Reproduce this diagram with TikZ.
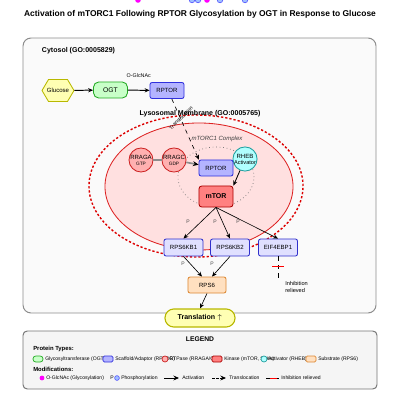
\documentclass[tikz,border=0pt]{standalone}
\usepackage{fontspec}
\setmainfont{Liberation Sans}
\usepackage{xcolor}
\usepackage{tikz}
\usetikzlibrary{positioning, arrows.meta, shapes.geometric}

\definecolor{gluFill}{HTML}{FFFFB3}
\definecolor{gluLine}{HTML}{B8B800}
\definecolor{ogtFill}{HTML}{C8FFC8}
\definecolor{ogtLine}{HTML}{22AA22}
\definecolor{rptFill}{HTML}{B4B4FF}
\definecolor{rptLine}{HTML}{3030DD}
\definecolor{ragFill}{HTML}{FFB0B0}
\definecolor{ragLine}{HTML}{CC2222}
\definecolor{rhbFill}{HTML}{B0FFFF}
\definecolor{rhbLine}{HTML}{20A0A0}
\definecolor{kinFill}{HTML}{FF8080}
\definecolor{kinLine}{HTML}{AA0000}
\definecolor{s6kFill}{HTML}{E0E0FF}
\definecolor{s6kLine}{HTML}{3030CC}
\definecolor{subFill}{HTML}{FFE0C0}
\definecolor{subLine}{HTML}{DD8833}
\definecolor{lysFill}{HTML}{FFE0E0}
\definecolor{lysLine}{HTML}{DD2222}
\definecolor{memLine}{HTML}{DD0000}
\definecolor{modMag}{HTML}{FF00FF}
\definecolor{phoFill}{HTML}{A0C0FF}

\begin{document}
\begin{tikzpicture}[x=0.025cm, y=-0.025cm,
        prot/.style={rectangle, rounded corners=1.5pt, draw, line width=0.6pt, minimum width=0.85cm, minimum height=0.4cm, inner sep=0pt, font=\fontsize{4.3}{5}\selectfont},
        gtpase/.style={circle, draw, line width=0.6pt, minimum size=0.6cm, inner sep=0pt, align=center, font=\fontsize{4.3}{4.8}\selectfont},
        act/.style={-{Stealth[length=3.5pt, width=3pt]}, line width=0.45pt},
        plab/.style={font=\fontsize{3.6}{4}\selectfont, text=black!70},
        hdr/.style={font=\fontsize{5}{6}\selectfont\bfseries},
        leg/.style={font=\fontsize{3.6}{4}\selectfont, anchor=west, inner sep=0pt},
        swatch/.style={rectangle, rounded corners=1pt, draw, line width=0.5pt, minimum width=0.25cm, minimum height=0.15cm, inner sep=0pt},
    ]
    \useasboundingbox (0,0) rectangle (400,400);

    % Stray modification markers (cut off at top)
    \foreach \x in {138, 207} {
        \fill[modMag] (\x, 0) circle[radius=0.07cm];
    }
    \foreach \x in {192, 198, 220, 245} {
        \filldraw[fill=phoFill, draw=blue!70, line width=0.4pt] (\x, 0) circle[radius=0.07cm];
    }

    % Title
    \node[font=\fontsize{6}{7}\selectfont\bfseries] (title) at (200, 14) {Activation of mTORC1 Following RPTOR Glycosylation by OGT in Response to Glucose};

    % Cytosol compartment
    \draw[rounded corners=0.2cm, fill=black!2, draw=black!45, line width=0.7pt] (23, 38) rectangle (376, 313);
    \node[hdr, anchor=west] (cytlab) at (37, 51) {Cytosol (GO:0005829)};

    % Lysosome and membrane
    \draw[fill=lysFill, draw=lysLine, line width=0.6pt] (199, 186.5) ellipse [x radius=2.35cm, y radius=1.5875cm];
    \draw[memLine, line width=1pt, dash pattern=on 1.6pt off 1.4pt] (196, 186) ellipse [x radius=2.675cm, y radius=1.775cm];
    \node[hdr] (lyslab) at (200, 114) {Lysosomal Membrane (GO:0005765)};

    % mTORC1 complex region
    \draw[black!55, dotted, line width=0.5pt] (216, 177) ellipse [x radius=0.95cm, y radius=0.75cm];
    \node[font=\fontsize{4.3}{5}\selectfont\itshape, text=black!75] (cpxlab) at (217, 139) {mTORC1 Complex};

    % Cytosolic proteins
    \draw[fill=gluFill, draw=gluLine, line width=0.6pt] (42, 90.5) -- (48.5, 79.5) -- (67.5, 79.5) -- (74, 90.5) -- (67.5, 101.5) -- (48.5, 101.5) -- cycle;
    \node[font=\fontsize{4.3}{5}\selectfont, minimum width=0.8cm, minimum height=0.55cm, inner sep=0pt] (glc) at (58, 90.5) {Glucose};
    \node[prot, fill=ogtFill, draw=ogtLine, rounded corners=0.13cm, font=\fontsize{4.8}{5}\selectfont] (ogt) at (110.5, 90) {OGT};
    \node[prot, fill=rptFill, draw=rptLine] (rptor1) at (167, 90.5) {RPTOR};

    % Lysosomal proteins
    \node[gtpase, fill=ragFill, draw=ragLine] (raga) at (141, 160) {RRAGA\\[-0.5pt]{\fontsize{3.4}{4}\selectfont GTP}};
    \node[gtpase, fill=ragFill, draw=ragLine] (ragc) at (174, 160) {RRAGC\\[-0.5pt]{\fontsize{3.4}{4}\selectfont GDP}};
    \node[gtpase, fill=rhbFill, draw=rhbLine] (rheb) at (245, 159) {RHEB\\[-0.5pt]{\fontsize{4}{4.5}\selectfont Activator}};
    \node[prot, fill=rptFill, draw=rptLine] (rptor2) at (216, 168) {RPTOR};
    \node[prot, fill=kinFill, draw=kinLine, minimum height=0.525cm, rounded corners=2pt, font=\fontsize{5}{6}\selectfont\bfseries] (mtor) at (216, 196.5) {mTOR};

    % Downstream targets
    \node[prot, fill=s6kFill, draw=s6kLine, minimum width=0.975cm, minimum height=0.425cm] (k1) at (183.5, 247.5) {RPS6KB1};
    \node[prot, fill=s6kFill, draw=s6kLine, minimum width=0.975cm, minimum height=0.425cm] (k2) at (230, 247.5) {RPS6KB2};
    \node[prot, fill=s6kFill, draw=s6kLine, minimum width=0.975cm, minimum height=0.425cm] (eif) at (278, 247.5) {EIF4EBP1};
    \node[prot, fill=subFill, draw=subLine, minimum width=0.95cm] (rps6) at (207, 285) {RPS6};
    \node[prot, fill=gluFill, draw=gluLine, line width=0.8pt, minimum width=1.75cm, minimum height=0.45cm, rounded corners=0.22cm, font=\fontsize{5}{6}\selectfont\bfseries] (transl) at (200, 318) {Translation $\uparrow$};

    % Glycosylation of RPTOR
    \draw[act, line width=0.7pt] (glc) -- (ogt);
    \draw[act, line width=0.7pt] (ogt) -- (rptor1) node[midway, above=5pt, font=\fontsize{3.8}{4}\selectfont] {O-GlcNAc};

    % Translocation to lysosome
    \draw[act, dashed] ([xshift=0.12cm]rptor1.south) -- ([xshift=-0.43cm]rptor2.north);
    \node[font=\fontsize{3.7}{4}\selectfont, rotate=45] (trlab) at (181, 118) {Translocation};

    % Rag and Rheb inputs
    \draw[black!45, line width=1.2pt] (raga) -- (ragc);
    \draw[-{Stealth[length=4pt, width=3.5pt, black]}, black!45, line width=1.2pt] (ragc) -- (rptor2);
    \draw[act, line width=0.6pt] (rheb) -- (mtor.north east);

    % Phosphorylation by mTOR
    \draw[act] (mtor.south) -- (k1.north);
    \draw[act] (mtor.south) -- (k2.north);
    \draw[act] (mtor.south) -- (eif.north);
    \foreach \x/\y in {188/222, 215/222, 238/222, 183/264, 212/264} {
        \node[plab] at (\x, \y) {P};
    }

    % S6 kinases to RPS6
    \draw[act] (k1.south) -- ([xshift=-0.125cm]rps6.north);
    \draw[act] (k2.south) -- ([xshift=0.125cm]rps6.north);
    \draw[act] (rps6.south) -- (transl.north);

    % 4E-BP1 inhibition relieved
    \coordinate (eifend) at (278, 279);
    \draw[dashed, line width=0.5pt] (eif.south) -- (eifend);
    \draw[red, line width=0.7pt] (272, 266) -- (284, 266);
    \node[font=\fontsize{4}{5.4}\selectfont, align=left, anchor=west, inner sep=0pt] (inhlab) at (285, 287) {Inhibition\\relieved};

    % Legend
    \draw[rounded corners=3pt, fill=black!4, draw=black!55, line width=0.7pt] (23, 331) rectangle (377, 389);
    \node[font=\fontsize{4.8}{5}\selectfont\bfseries] (leglab) at (200, 339) {LEGEND};
    \node[font=\fontsize{4.2}{5}\selectfont\bfseries, anchor=west, inner sep=0pt] (typlab) at (33, 349) {Protein Types:};
    \node[font=\fontsize{4.2}{5}\selectfont\bfseries, anchor=west, inner sep=0pt] (modlab) at (33, 369) {Modifications:};

    % Protein type swatches
    \node[swatch, fill=ogtFill, draw=ogtLine, rounded corners=2pt] (sw1) at (38, 359) {};
    \node[leg] at (45, 359) {Glycosyltransferase (OGT)};
    \node[swatch, fill=rptFill, draw=rptLine] (sw2) at (108, 359) {};
    \node[leg] at (115, 359) {Scaffold/Adaptor (RPTOR)};
    \node[circle, draw=ragLine, fill=ragFill, line width=0.5pt, minimum size=0.15cm, inner sep=0pt] (sw3) at (165, 359) {};
    \node[leg] at (169, 359) {GTPase (RRAGA/C)};
    \node[swatch, fill=kinFill, draw=kinLine] (sw4) at (217, 359) {};
    \node[leg] at (224, 359) {Kinase (mTOR, S6Ks)};
    \node[circle, draw=rhbLine, fill=rhbFill, line width=0.5pt, minimum size=0.15cm, inner sep=0pt] (sw5) at (264, 359) {};
    \node[leg] at (268, 359) {Activator (RHEB)};
    \node[swatch, fill=subFill, draw=subLine] (sw6) at (311, 359) {};
    \node[leg] at (318, 359) {Substrate (RPS6)};

    % Modification and edge keys
    \fill[modMag] (42, 378) circle[radius=0.06cm];
    \node[leg] at (46, 378) {O-GlcNAc (Glycosylation)};
    \node[leg] at (110, 378) {P};
    \filldraw[fill=phoFill, draw=blue!70, line width=0.4pt] (117, 378) circle[radius=0.06cm];
    \node[leg] at (121, 378) {Phosphorylation};
    \coordinate (ka) at (164, 378);
    \coordinate (kb) at (179, 378);
    \draw[-{Stealth[length=4pt, width=3.5pt]}, line width=0.7pt] (ka) -- (kb);
    \node[leg] at (182, 378) {Activation};
    \coordinate (kc) at (212, 378);
    \coordinate (kd) at (226, 378);
    \draw[-{Stealth[length=4pt, width=3.5pt]}, line width=0.7pt, dash pattern=on 2pt off 1pt] (kc) -- (kd);
    \node[leg] at (229, 378) {Translocation};
    \draw[dashed, line width=0.5pt] (266, 378) -- (279, 378);
    \draw[red, line width=0.7pt] (270, 378) -- (277, 378);
    \node[leg] at (281, 378) {Inhibition relieved};

\end{tikzpicture}
\end{document}
